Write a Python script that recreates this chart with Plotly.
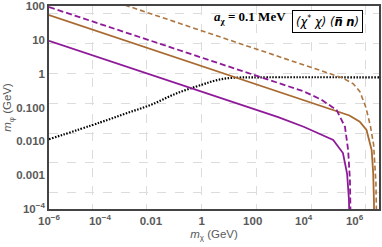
import plotly.graph_objects as go

# ---- data (m_chi in GeV, m_phi in GeV) ----
purple_solid_mx = [1e-6, 1e3, 1e4, 4e4, 1.45e5, 3.5e5, 5.1e5, 6.0e5, 6.15e5]
purple_solid_mphi = [9.3, 0.052, 0.027, 0.017, 0.011, 0.0045, 0.0011, 0.0002, 0.0001]

purple_dash_mx = [1e-6, 1e3, 1e4, 5e4, 1.95e5, 4.2e5, 5.6e5, 6.6e5, 6.9e5]
purple_dash_mphi = [93, 0.52, 0.3, 0.17, 0.085, 0.027, 0.0055, 0.0007, 0.0001]

brown_solid_mx = [1e-6, 1e5, 6.3e5, 1.6e6, 2.95e6, 4.7e6, 5.4e6, 5.75e6, 5.82e6]
brown_solid_mphi = [54, 0.095, 0.058, 0.038, 0.0216, 0.0055, 0.00115, 0.00019, 0.0001]

brown_dash_mx = [1e-6, 1e5, 3.2e5, 8.9e5, 1.6e6, 2.8e6, 4.2e6, 5.6e6, 6.9e6, 7.2e6]
brown_dash_mphi = [600, 1.07, 0.76, 0.5, 0.3, 0.1, 0.028, 0.008, 0.0006, 0.0001]

dotted_mx = [1e-6, 1e-4, 1e-3, 1e-2, 0.1, 1, 3.2, 10, 32, 100, 1e7]
dotted_mphi = [0.0115, 0.036, 0.066, 0.12, 0.26, 0.47, 0.62, 0.73, 0.77, 0.78, 0.78]

x_tickvals = [1e-6, 1e-4, 1e-2, 1, 100, 1e4, 1e6]
x_ticktext = ["10<sup>−6</sup>", "10<sup>−4</sup>", "0.01", "1", "100", "10<sup>4</sup>", "10<sup>6</sup>"]
y_tickvals = [100, 10, 1, 0.1, 0.01, 0.001, 1e-4]
y_ticktext = ["100", "10", "1", "0.100", "0.010", "0.001", "10<sup>−4</sup>"]

PURPLE = "#8e1a98"
BROWN = "#a86a30"
BROWN_D = "#ad7540"

fig = go.Figure()
fig.add_trace(go.Scatter(x=dotted_mx, y=dotted_mphi, mode="lines",
                         line=dict(color="black", width=2.2, dash="1.5px,1.5px",
                                   shape="spline", smoothing=1.0)))
fig.add_trace(go.Scatter(x=brown_dash_mx, y=brown_dash_mphi, mode="lines",
                         line=dict(color=BROWN_D, width=1.6, dash="5px,3px")))
fig.add_trace(go.Scatter(x=brown_solid_mx, y=brown_solid_mphi, mode="lines",
                         line=dict(color=BROWN, width=1.8)))
fig.add_trace(go.Scatter(x=purple_dash_mx, y=purple_dash_mphi, mode="lines",
                         line=dict(color=PURPLE, width=1.8, dash="6px,3px")))
fig.add_trace(go.Scatter(x=purple_solid_mx, y=purple_solid_mphi, mode="lines",
                         line=dict(color=PURPLE, width=1.8)))

tickfont = dict(family="Liberation Sans, Arial", size=11.5, color="#5a5a5a", weight="bold")
titlefont = dict(family="Liberation Sans, Arial", size=11.5, color="#5a5a5a")
grid = dict(showgrid=True, gridcolor="#dcdcdc", griddash="dash", gridwidth=1, ticks="")

fig.update_xaxes(type="log", range=[-6, 6.96], tickmode="array", automargin=False,
                 tickvals=x_tickvals, ticktext=x_ticktext, tickfont=tickfont,
                 showgrid=False, zeroline=False, showline=True, mirror=True,
                 linecolor="#444444", linewidth=1.5, ticks="",
                 minor=dict(tickmode="array",
                            tickvals=[5e-5, 7e-3, 1, 141, 2e4, 2.8e6], **grid),
                 title=dict(text="<i>m</i><sub>χ</sub> (GeV)", standoff=4, font=titlefont))
fig.update_yaxes(type="log", range=[-4, 2], tickmode="array", automargin=False,
                 tickvals=y_tickvals, ticktext=y_ticktext, tickfont=tickfont,
                 showgrid=False, zeroline=False, showline=True, mirror=True,
                 linecolor="#444444", linewidth=1.5, ticks="",
                 minor=dict(tickmode="array",
                            tickvals=[60, 7.8, 1, 0.13, 0.017, 0.0023, 3.0e-4], **grid),
                 title=dict(text="<i>m</i><sub>φ</sub> (GeV)", standoff=2, font=titlefont))

fig.add_annotation(xref="paper", yref="paper", x=0.61, y=0.941, showarrow=False,
                   xanchor="center", yanchor="middle",
                   text="<b><i>a</i><sub>χ</sub> = 0.1 MeV</b>",
                   font=dict(family="Liberation Serif, Times New Roman", size=13, color="black"))
fig.add_annotation(xref="paper", yref="paper", x=0.845, y=0.924, showarrow=False,
                   xanchor="center", yanchor="middle",
                   text="<i>(χ<sup>*</sup> χ) (<b>n̅</b> <b>n</b>)</i>",
                   bordercolor="black", borderwidth=1, borderpad=3, bgcolor="white",
                   font=dict(family="DejaVu Sans", size=11.5, color="black"))

fig.update_layout(width=382, height=247, showlegend=False,
                  margin=dict(l=49, r=3, t=6, b=38, autoexpand=False),
                  plot_bgcolor="white", paper_bgcolor="white")

fig.write_html("out.html", config={"displayModeBar": False},
               post_script="document.body.style.margin='0';document.body.style.overflow='hidden';")
